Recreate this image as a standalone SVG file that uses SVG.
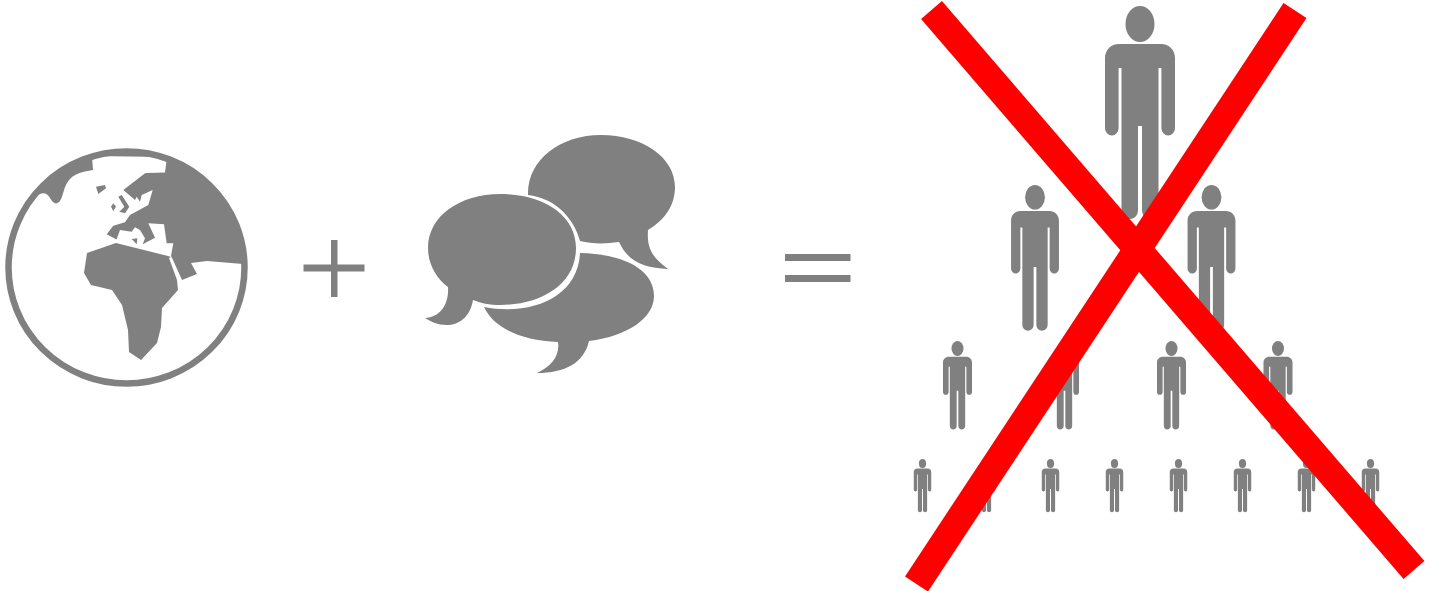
<svg xmlns="http://www.w3.org/2000/svg" width="1431" height="591" viewBox="0 0 1431 591">
<style>
.g{fill:#808080}
.w{fill:#ffffff}
.x{stroke:#ff0000;stroke-width:27.500;fill:none}
</style>
<defs>
<g id="p" class="g">
<ellipse cx="0" cy="18" rx="14.500" ry="18"/>
<path d="M-21 38H21C29 38 35 44 35 52V122A6.800 7.500 0 0 1 21.400 122V62H18.500V204C18.500 216 2 216 2 204V120H-2V204C-2 216 -18.500 216 -18.500 204V62H-21.400V122A6.800 7.500 0 0 1 -35 122V52C-35 44 -29 38 -21 38Z"/>
</g>
</defs>
<rect width="1431" height="591" fill="#ffffff"/>
<g id="globe">
<ellipse class="g" cx="126.500" cy="267.500" rx="120" ry="118"/>
<path class="w" d="M92 156L167 157L165 172.500L147 173L145 173.300L123.300 190L135 200L136.700 196.700L140 201.700L141.700 195L152.700 190L148.300 205L130 215L125 222.300L113.300 225.700L106.700 234.300L116.500 239.500L120 230L131.700 231.700L135 227.300L140 230L145 238.300L142.700 244.300L155 237.700L148.300 223.300L164 224.300L166.700 243.300L173.300 243.300L171 256L173 260L182 280L197 274L191 263L207 261L243 264L243 267.500A116.500 114.500 0 0 1 10 267.500C10 240 20 215 35 197Q45 189 50 198Q55 207 60 201C64 195 63 185 72 177Q78 172 93 170Z"/>
<path class="g" d="M87 253L116 243L168 256L171 257L169 258L177 280L178 290L162 308L161 327L157 343L141 360L129 352L128 330L122 305L112 290L91 285L84 273Z"/>
<path class="g" d="M96 186.700L105 185L106 188.300L98.300 194Z"/>
<path class="g" d="M118.300 196.700L121.700 195L129.300 206.700L125 213.300L119.300 211.700L124.300 206.700Z"/>
<path class="g" d="M113.300 203.300L116 206.700L113.300 211L111 206.700Z"/>
<path class="g" d="M131.700 239L137.300 238.300L136.700 244.300Z"/>
<ellipse cx="126.500" cy="267.500" rx="118" ry="116" fill="none" stroke="#808080" stroke-width="6.500"/>
</g>
<g id="speech">
<path class="g" d="M528 195C527 160 560 135 601 135C642 135 675 157 675 187C675 205 665 220 648 230C647 246 650 256 668 269C645 268 628 262 619 242C605 244 592 244 580 241C574 218 555 198 528 195Z"/>
<path class="g" d="M580 253C625 254 654 270 654 296C654 318 628 336 589 341C584 363 565 373 537 373C552 366 560 355 558 342C520 340 494 328 484 307C530 316 578 298 580 253Z"/>
<path class="g" d="M428 248C428 216 460 194 500 194C545 194 576 216 576 248C576 285 540 305 500 305C490 305 480 303 473 300C470 318 458 325 447 325C437 325 432 322 425 318C440 317 449 305 448 287C436 278 428 264 428 248Z"/>
</g>
<g id="plus" class="g"><rect x="303.500" y="264.500" width="61" height="7"/><rect x="331" y="240" width="6.500" height="57"/></g>
<g id="equals" class="g"><rect x="785" y="254" width="65.500" height="7"/><rect x="785" y="275" width="65.500" height="7"/></g>
<g id="person-1"><use href="#p" transform="translate(1140 6)"/></g>
<g id="person-2"><use href="#p" transform="translate(1035 185) scale(.684)"/></g>
<g id="person-3"><use href="#p" transform="translate(1211.500 185) scale(.684)"/></g>
<g id="person-4"><use href="#p" transform="translate(957.500 341) scale(.415)"/></g>
<g id="person-5"><use href="#p" transform="translate(1064.500 341) scale(.415)"/></g>
<g id="person-6"><use href="#p" transform="translate(1171.500 341) scale(.415)"/></g>
<g id="person-7"><use href="#p" transform="translate(1278 341) scale(.415)"/></g>
<g id="person-8"><use href="#p" transform="translate(922.500 459) scale(.25)"/></g>
<g id="person-9"><use href="#p" transform="translate(986.500 459) scale(.25)"/></g>
<g id="person-10"><use href="#p" transform="translate(1050.500 459) scale(.25)"/></g>
<g id="person-11"><use href="#p" transform="translate(1114.500 459) scale(.25)"/></g>
<g id="person-12"><use href="#p" transform="translate(1178.500 459) scale(.25)"/></g>
<g id="person-13"><use href="#p" transform="translate(1242.500 459) scale(.25)"/></g>
<g id="person-14"><use href="#p" transform="translate(1306.500 459) scale(.25)"/></g>
<g id="person-15"><use href="#p" transform="translate(1370.500 459) scale(.25)"/></g>
<g id="cross">
<line class="x" x1="931.500" y1="10" x2="1414" y2="570"/>
<line class="x" x1="1295" y1="10.500" x2="916.500" y2="584"/>
</g>
</svg>
